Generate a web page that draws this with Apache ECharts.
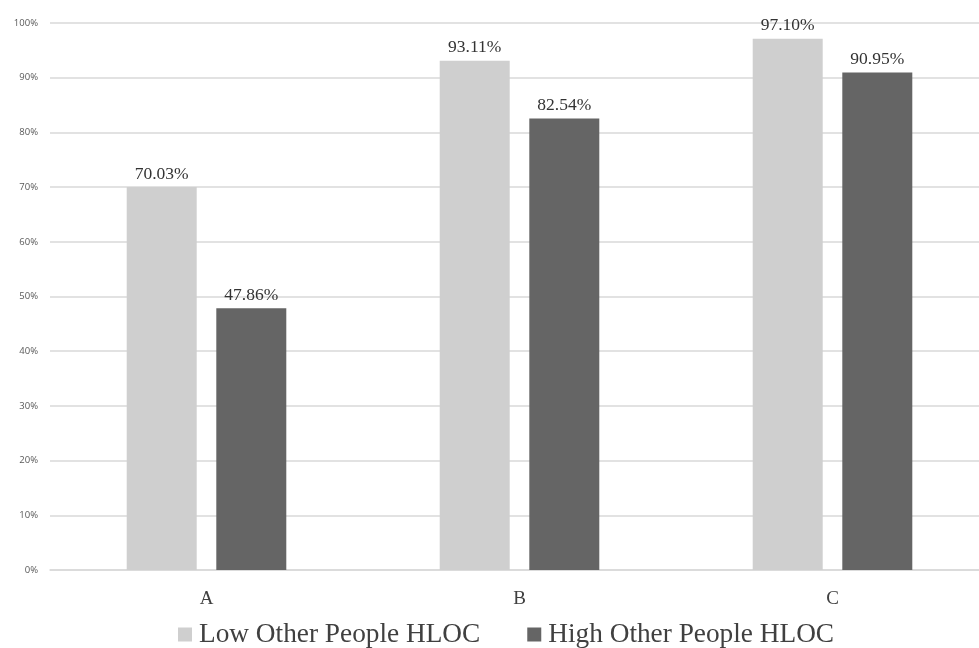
<!DOCTYPE html>
<html><head><meta charset="utf-8">
<script src="https://cdn.jsdelivr.net/npm/echarts@6/dist/echarts.min.js"></script>
<style>html,body{margin:0;padding:0;background:#fff}#c{width:979px;height:648px}</style>
</head><body><div id="c"></div>
<script>
const categories = ['A', 'B', 'C'];
const lowValues = [70.03, 93.11, 97.10];
const highValues = [47.86, 82.54, 90.95];
const seriesNames = ['Low Other People HLOC', 'High Other People HLOC'];

const chart = echarts.init(document.getElementById('c'));
const serif = '"Liberation Serif", "DejaVu Serif", serif';
const lbl = {show: true, position: 'top', distance: 4, fontFamily: serif, fontSize: 17.5, color: '#333',
  formatter: p => p.value.toFixed(2) + '%'};
chart.setOption({
  animation: false,
  grid: {left: 50, right: -10, top: 23, bottom: 78, containLabel: false, outerBoundsMode: 'none'},
  legend: {top: 616, left: 173, itemWidth: 14, itemHeight: 14, itemGap: 47, icon: 'rect',
    textStyle: {fontFamily: serif, fontSize: 27.3, color: '#404040', padding: [0, 0, 0, 2]}},
  xAxis: {type: 'category', data: categories, axisTick: {show: false},
    axisLine: {lineStyle: {color: '#d9d9d9', width: 1.5}},
    axisLabel: {fontFamily: serif, fontSize: 19, color: '#404040', margin: 20}},
  yAxis: {type: 'value', min: 0, max: 100, interval: 10,
    axisLabel: {formatter: '{value}%', fontFamily: '"Open Sans", "DejaVu Sans", sans-serif', fontSize: 9.5, color: '#595959', margin: 12},
    splitLine: {lineStyle: {color: '#d9d9d9', width: 1.5}}, axisLine: {show: false}, axisTick: {show: false}},
  series: [
    {name: seriesNames[0], type: 'bar', data: lowValues, barWidth: 70, barGap: '28%', itemStyle: {color: '#cfcfcf'}, label: lbl},
    {name: seriesNames[1], type: 'bar', data: highValues, barWidth: 70, itemStyle: {color: '#656565'}, label: lbl}
  ]
});
</script></body></html>
